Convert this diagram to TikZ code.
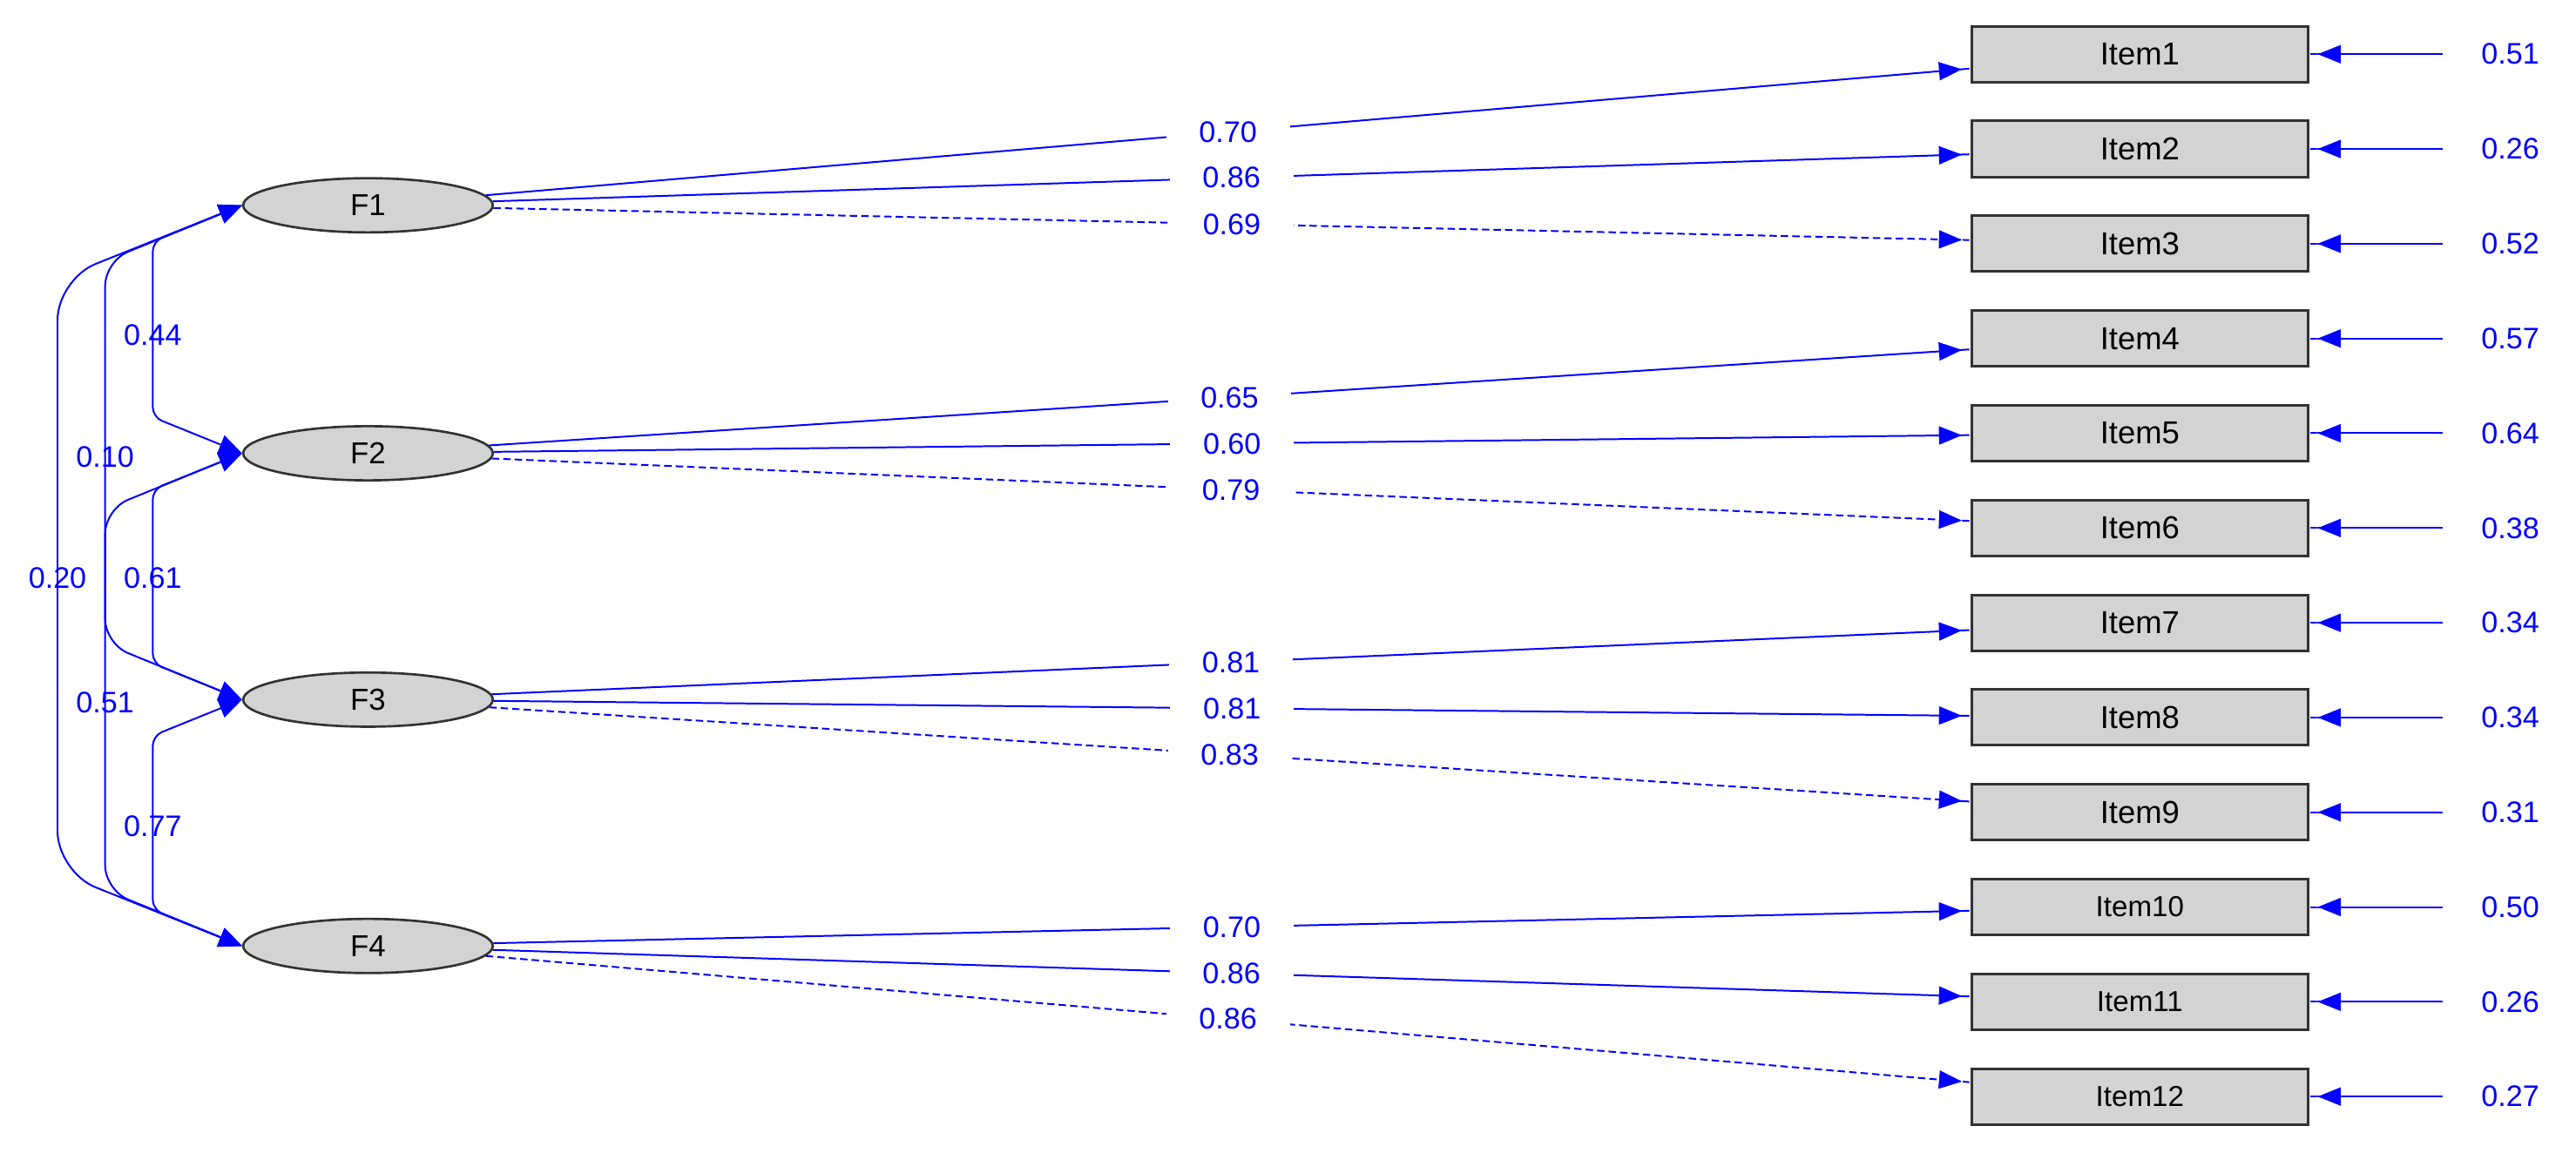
\documentclass[tikz,border=0pt]{standalone}
\usepackage{fontspec}
\setmainfont{Liberation Sans}
\usetikzlibrary{shapes.geometric,arrows.meta}
\definecolor{lblue}{RGB}{0,0,255}
\definecolor{boxgray}{RGB}{211,211,211}
\definecolor{edgegray}{RGB}{50,50,50}
\begin{document}
\begin{tikzpicture}[x=0.02cm,y=-0.02cm,
  latent/.style={ellipse,draw=edgegray,line width=0.8pt,fill=boxgray,minimum width=3.04cm,minimum height=0.66cm,inner sep=0pt,font=\fontsize{10.5}{12}\selectfont},
  item/.style={rectangle,draw=edgegray,line width=0.9pt,fill=boxgray,minimum width=4.1cm,minimum height=0.68cm,inner sep=0pt,font=\fontsize{11}{13}\selectfont},
  smallitem/.style={item,font=\fontsize{10}{12}\selectfont},
  arr/.style={draw=lblue,line width=0.6pt,-{Triangle[length=0.28cm,width=0.22cm]Rectangle[length=0.1cm,width=0.6pt]}},
  dashedarr/.style={arr,dash pattern={on 0.09cm off 0.05cm}},
  cov/.style={draw=lblue,line width=0.6pt,{Triangle[length=0.28cm,width=0.24cm]}-{Triangle[length=0.28cm,width=0.24cm]}},
  lab/.style={text=lblue,fill=white,inner xsep=0.4cm,inner ysep=1pt,font=\fontsize{10.3}{12}\selectfont},
  covlab/.style={text=lblue,fill=white,inner xsep=1pt,inner ysep=1pt,font=\fontsize{10.3}{12}\selectfont},
  errlab/.style={text=lblue,inner sep=1pt,font=\fontsize{10.3}{12}\selectfont}]
\useasboundingbox (0,0) rectangle (1568,702);

% latent factors
\node[latent] (F1) at (224,125) {F1};
\node[latent] (F2) at (224,276) {F2};
\node[latent] (F3) at (224,426) {F3};
\node[latent] (F4) at (224,576) {F4};

% items
\foreach \i in {1,...,9} {
  \node[item] (I\i) at (1302.5,{33+57.7*(\i-1)}) {Item\i};
}
\foreach \i in {10,11,12} {
  \node[smallitem] (I\i) at (1302.5,{33+57.7*(\i-1)}) {Item\i};
}

% error variances
\foreach \i/\v in {1/0.51,2/0.26,3/0.52,4/0.57,5/0.64,6/0.38,7/0.34,8/0.34,9/0.31,10/0.50,11/0.26,12/0.27} {
  \node[errlab] (e\i) at (1528,{33+57.7*(\i-1)}) {\v};
  \coordinate (s\i) at (1487,{33+57.7*(\i-1)});
  \draw[arr] (s\i) -- (I\i);
}

% loadings
\draw[arr] (F1) -- node[lab] {0.70} (I1);
\draw[arr] (F1) -- node[lab] {0.86} (I2);
\draw[dashedarr] (F1) -- node[lab] {0.69} (I3);
\draw[arr] (F2) -- node[lab] {0.65} (I4);
\draw[arr] (F2) -- node[lab] {0.60} (I5);
\draw[dashedarr] (F2) -- node[lab] {0.79} (I6);
\draw[arr] (F3) -- node[lab] {0.81} (I7);
\draw[arr] (F3) -- node[lab] {0.81} (I8);
\draw[dashedarr] (F3) -- node[lab] {0.83} (I9);
\draw[arr] (F4) -- node[lab] {0.70} (I10);
\draw[arr] (F4) -- node[lab] {0.86} (I11);
\draw[dashedarr] (F4) -- node[lab] {0.86} (I12);

% covariances: outer column
\node[covlab] (c14) at (35,352) {0.20};
\draw[cov,rounded corners=0.5cm] (F1.west) -- (35,170) -- (35,531) -- (F4.west);
% middle column
\node[covlab] (c13) at (64,278) {0.10};
\node[covlab] (c24) at (64,428) {0.51};
\draw[cov,rounded corners=0.3cm] (F1.west) -- (64,159) -- (64,392) -- (F3.west);
\draw[cov,rounded corners=0.3cm] (F2.west) -- (64,310) -- (64,542) -- (F4.west);
% inner column
\node[covlab] (c12) at (93,204) {0.44};
\node[covlab] (c23) at (93,352) {0.61};
\node[covlab] (c34) at (93,503) {0.77};
\draw[cov,rounded corners=0.12cm] (F1.west) -- (93,147) -- (93,254) -- (F2.west);
\draw[cov,rounded corners=0.12cm] (F2.west) -- (93,298) -- (93,404) -- (F3.west);
\draw[cov,rounded corners=0.12cm] (F3.west) -- (93,448) -- (93,554) -- (F4.west);
\end{tikzpicture}
\end{document}
